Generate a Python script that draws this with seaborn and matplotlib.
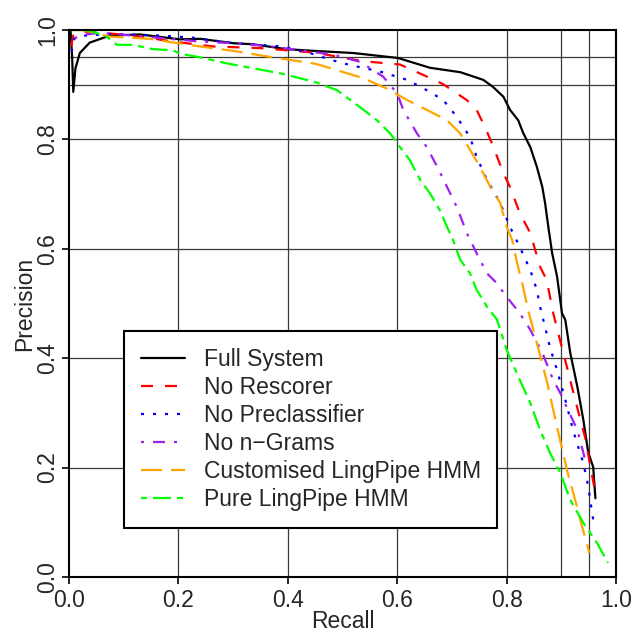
import numpy as np
import pandas as pd
import matplotlib
matplotlib.use("Agg")
import matplotlib.pyplot as plt
from matplotlib.lines import Line2D
import seaborn as sns

# ==========================================
# DATA
# ==========================================

full_x = [0.003, 0.006, 0.008, 0.012, 0.02, 0.038, 0.075, 0.13, 0.203, 0.24, 0.30, 0.337, 0.398,
          0.447, 0.52, 0.601, 0.66, 0.715, 0.757, 0.775, 0.794, 0.806, 0.821, 0.83, 0.843, 0.855,
          0.865, 0.87, 0.876, 0.883, 0.892, 0.901, 0.907, 0.916, 0.929, 0.94, 0.949, 0.958, 0.962]
full_y = [1.0, 0.95, 0.887, 0.93, 0.958, 0.977, 0.99, 0.992, 0.983, 0.984, 0.976, 0.974, 0.965,
          0.962, 0.958, 0.949, 0.931, 0.923, 0.909, 0.896, 0.878, 0.854, 0.835, 0.812, 0.786, 0.75,
          0.713, 0.684, 0.64, 0.592, 0.549, 0.482, 0.47, 0.41, 0.348, 0.287, 0.227, 0.201, 0.144]

resc_x = [0.004, 0.008, 0.017, 0.05, 0.117, 0.19, 0.264, 0.35, 0.435, 0.459, 0.538, 0.605, 0.654,
          0.684, 0.727, 0.745, 0.76, 0.773, 0.794, 0.806, 0.824, 0.843, 0.861, 0.873, 0.885, 0.894,
          0.91, 0.925, 0.943, 0.962]
resc_y = [0.97, 0.99, 0.998, 0.996, 0.99, 0.979, 0.97, 0.967, 0.96, 0.957, 0.943, 0.937, 0.915,
          0.901, 0.872, 0.854, 0.823, 0.793, 0.738, 0.713, 0.665, 0.629, 0.567, 0.543, 0.482, 0.446,
          0.384, 0.324, 0.256, 0.153]

precl_x = [0.005, 0.01, 0.03, 0.08, 0.166, 0.227, 0.30, 0.392, 0.447, 0.477, 0.514, 0.569, 0.618,
           0.654, 0.684, 0.709, 0.733, 0.745, 0.764, 0.788, 0.806, 0.824, 0.843, 0.855, 0.861, 0.879,
           0.892, 0.907, 0.921, 0.94, 0.949, 0.958]
precl_y = [0.96, 0.985, 0.99, 0.993, 0.99, 0.986, 0.976, 0.97, 0.956, 0.946, 0.936, 0.924, 0.909,
           0.89, 0.872, 0.841, 0.804, 0.768, 0.726, 0.684, 0.64, 0.603, 0.561, 0.525, 0.494, 0.42,
           0.378, 0.324, 0.269, 0.208, 0.165, 0.104]

ngram_x = [0.01, 0.03, 0.057, 0.117, 0.24, 0.30, 0.362, 0.453, 0.483, 0.532, 0.574, 0.60, 0.611,
           0.636, 0.654, 0.673, 0.691, 0.709, 0.727, 0.745, 0.764, 0.782, 0.80, 0.824, 0.843, 0.865,
           0.885, 0.898, 0.912, 0.929, 0.94, 0.943]
ngram_y = [0.985, 0.992, 0.995, 0.99, 0.979, 0.976, 0.971, 0.959, 0.955, 0.942, 0.915, 0.884, 0.854,
           0.811, 0.786, 0.75, 0.713, 0.676, 0.629, 0.592, 0.555, 0.537, 0.512, 0.482, 0.452, 0.41,
           0.36, 0.336, 0.305, 0.269, 0.227, 0.214]

cust_x = [0.008, 0.026, 0.075, 0.148, 0.179, 0.24, 0.30, 0.373, 0.447, 0.459, 0.538, 0.581, 0.618,
          0.66, 0.691, 0.715, 0.733, 0.751, 0.77, 0.788, 0.80, 0.81, 0.819, 0.83, 0.839, 0.855,
          0.874, 0.892, 0.91, 0.925, 0.938, 0.951]
cust_y = [1.0, 1.0, 0.988, 0.984, 0.979, 0.97, 0.962, 0.95, 0.939, 0.936, 0.912, 0.893, 0.872,
          0.851, 0.835, 0.811, 0.781, 0.75, 0.713, 0.684, 0.64, 0.616, 0.574, 0.53, 0.488, 0.428,
          0.355, 0.274, 0.196, 0.141, 0.091, 0.044]

pure_x = [0.002, 0.03, 0.044, 0.069, 0.088, 0.117, 0.154, 0.19, 0.203, 0.24, 0.289, 0.337, 0.386,
          0.422, 0.453, 0.49, 0.532, 0.563, 0.587, 0.605, 0.623, 0.642, 0.66, 0.678, 0.691, 0.702,
          0.715, 0.733, 0.745, 0.764, 0.782, 0.80, 0.824, 0.843, 0.861, 0.879, 0.898, 0.916, 0.94,
          0.965, 0.985]
pure_y = [1.0, 1.0, 0.997, 0.988, 0.973, 0.973, 0.965, 0.963, 0.957, 0.95, 0.939, 0.93, 0.921,
          0.912, 0.904, 0.89, 0.859, 0.835, 0.811, 0.786, 0.762, 0.726, 0.701, 0.67, 0.64, 0.616,
          0.58, 0.555, 0.525, 0.494, 0.471, 0.415, 0.36, 0.318, 0.269, 0.227, 0.19, 0.141, 0.099,
          0.062, 0.026]

labels = ["Full System", "No Rescorer", "No Preclassifier", "No n\u2212Grams",
          "Customised LingPipe HMM", "Pure LingPipe HMM"]
colors = ["black", "#ff0000", "#0000ff", "#a020f0", "#ffa500", "#00ff00"]

# R line types (lty 1..6) expressed in line-width units
dash_styles = ["", (5.4, 5.4), (1.35, 4.05), (1.35, 4.05, 5.4, 4.05),
               (9.45, 4.05), (2.7, 2.7, 8.1, 2.7)]

series_x = [full_x, resc_x, precl_x, ngram_x, cust_x, pure_x]
series_y = [full_y, resc_y, precl_y, ngram_y, cust_y, pure_y]

frames = []
for lab, xs, ys in zip(labels, series_x, series_y):
    frames.append(pd.DataFrame({"Recall": xs, "Precision": ys, "system": lab}))
df = pd.concat(frames, ignore_index=True)

# ==========================================
# PLOT
# ==========================================

sns.set_theme(style="white")
plt.rcParams["font.family"] = ["Liberation Sans", "DejaVu Sans"]

FS = 16.5

fig = plt.figure(figsize=(6.32, 6.33), dpi=100)
ax = fig.add_axes([0.109, 0.0885, 0.866, 0.864])

# grid like the reference (0.2 steps plus 0.9 / 0.95)
for g in [0.2, 0.4, 0.6, 0.8, 0.9, 0.95]:
    ax.axvline(g, color="#3a3a3a", lw=0.9, zorder=0)
    ax.axhline(g, color="#3a3a3a", lw=0.9, zorder=0)

sns.lineplot(
    data=df,
    x="Recall",
    y="Precision",
    hue="system",
    style="system",
    hue_order=labels,
    style_order=labels,
    palette=dict(zip(labels, colors)),
    dashes=dict(zip(labels, dash_styles)),
    sort=False,
    estimator=None,
    lw=1.6,
    legend=False,
    ax=ax
)

ax.set_xlim(0, 1)
ax.set_ylim(0, 1)
ticks = [0.0, 0.2, 0.4, 0.6, 0.8, 1.0]
ax.set_xticks(ticks)
ax.set_yticks(ticks)
ax.set_xticklabels([f"{t:.1f}" for t in ticks])
ax.set_yticklabels([f"{t:.1f}" for t in ticks])
ax.tick_params(axis="both", direction="out", length=5, width=1.2, color="black",
               labelsize=FS, bottom=True, left=True)
ax.tick_params(axis="x", pad=4)
ax.tick_params(axis="y", pad=2, labelrotation=90)
for lbl in ax.get_yticklabels():
    lbl.set_va("center")

for sp in ax.spines.values():
    sp.set_color("black")
    sp.set_linewidth(1.5)

ax.set_xlabel("Recall", fontsize=FS, labelpad=-2)
ax.set_ylabel("Precision", fontsize=FS, labelpad=0)

handles = []
for c, d in zip(colors, dash_styles):
    h = Line2D([0], [0], color=c, lw=1.6)
    if d != "":
        h.set_dashes(d)
    handles.append(h)

leg = ax.legend(
    handles,
    labels,
    loc="upper left",
    bbox_to_anchor=(0.1005, 0.097, 0.682, 0.353),
    mode="expand",
    borderaxespad=0,
    fontsize=FS,
    frameon=True,
    fancybox=False,
    framealpha=1,
    edgecolor="black",
    borderpad=0.75,
    labelspacing=0.22,
    handlelength=1.9,
    handletextpad=0.85
)
leg.get_frame().set_linewidth(1.5)

fig.savefig("out.png", dpi=100)
